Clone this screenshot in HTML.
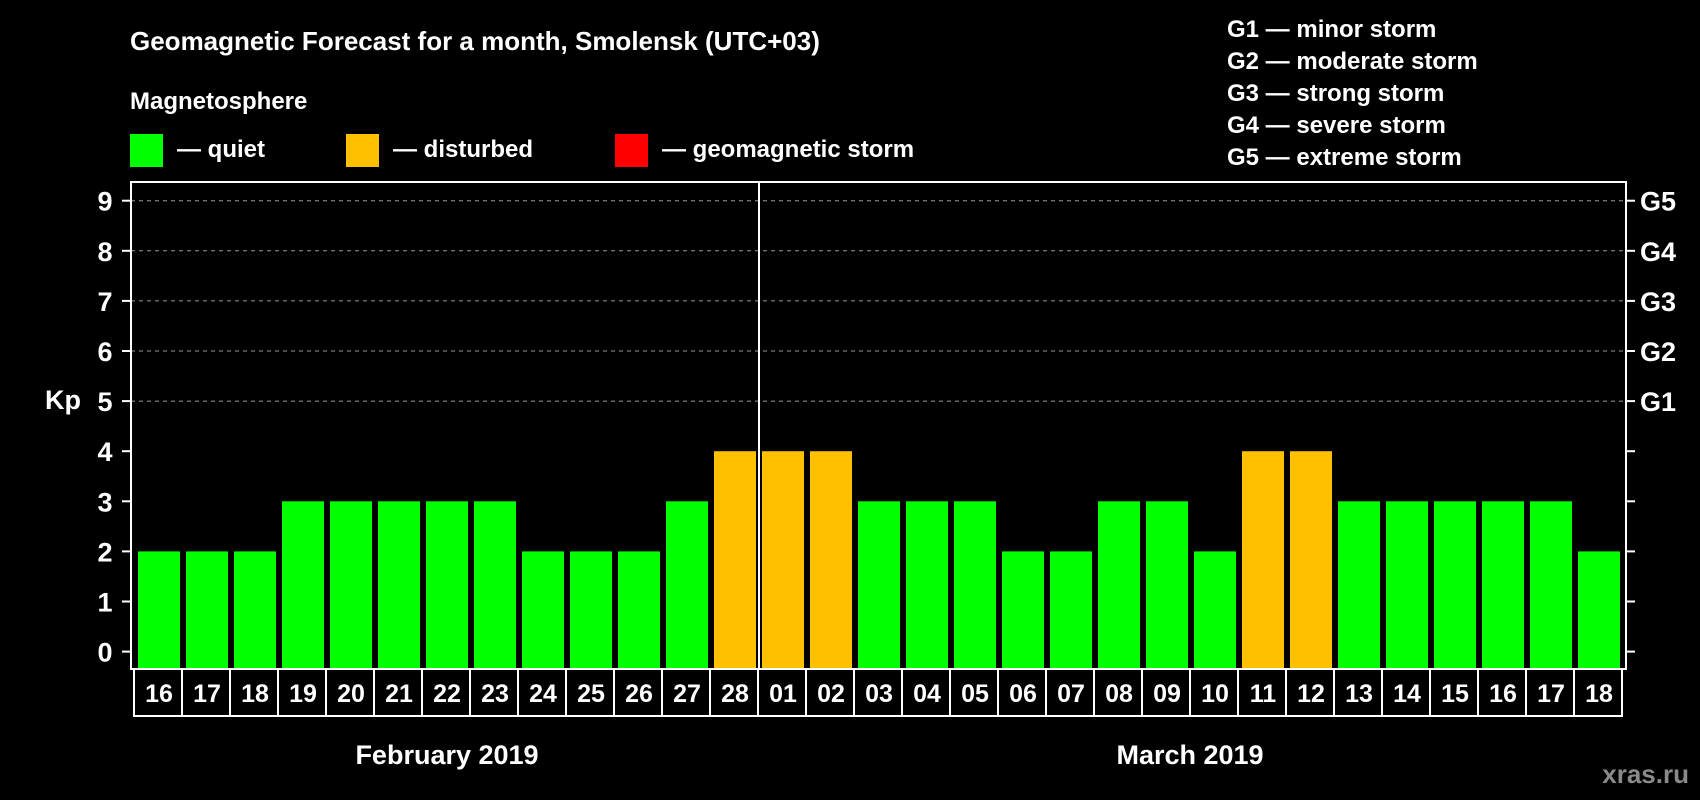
<!DOCTYPE html>
<html><head><meta charset="utf-8"><style>
html,body{margin:0;padding:0;background:#000;width:1700px;height:800px;overflow:hidden}
svg text{font-family:"Liberation Sans",Arial,sans-serif;font-weight:bold;fill:#fff}
</style></head><body>
<svg id="chart" width="1700" height="800" xmlns="http://www.w3.org/2000/svg">
<text x="130" y="50" font-size="26">Geomagnetic Forecast for a month, Smolensk (UTC+03)</text>
<text x="130" y="109" font-size="24">Magnetosphere</text>
<g><rect x="130" y="134" width="33" height="33" fill="#00ff00"/><text x="177" y="157" font-size="24">— quiet</text></g>
<g><rect x="346" y="134" width="33" height="33" fill="#ffc000"/><text x="393" y="157" font-size="24">— disturbed</text></g>
<g><rect x="615" y="134" width="33" height="33" fill="#ff0000"/><text x="662" y="157" font-size="24">— geomagnetic storm</text></g>
<g font-size="24">
<text x="1227" y="37">G1 — minor storm</text>
<text x="1227" y="69">G2 — moderate storm</text>
<text x="1227" y="101">G3 — strong storm</text>
<text x="1227" y="133">G4 — severe storm</text>
<text x="1227" y="165">G5 — extreme storm</text>
</g>
<text x="63" y="409" font-size="27" text-anchor="middle">Kp</text>
<g id="grid"></g><g id="bars"></g><g id="axes"></g><g id="dates"></g>
<text x="447" y="764" font-size="27" text-anchor="middle">February 2019</text>
<text x="1190" y="764" font-size="27" text-anchor="middle">March 2019</text>
<text x="1689" y="783" font-size="26" text-anchor="end" style="fill:#8a8a8a">xras.ru</text>
</svg>
<script>
const days = ["16","17","18","19","20","21","22","23","24","25","26","27","28","01","02","03","04","05","06","07","08","09","10","11","12","13","14","15","16","17","18"];
const kpValues = [2,2,2,3,3,3,3,3,2,2,2,3,4,4,4,3,3,3,2,2,3,3,2,4,4,3,3,3,3,3,2];
const yTicks = [0,1,2,3,4,5,6,7,8,9];
const gLabels = ["G1","G2","G3","G4","G5"];
const NS="http://www.w3.org/2000/svg";
const L=131,R=1626,T=182,B=669,Y0=651.6,UNIT=50.1,X0=138,PITCH=48,BW=42;
const y=v=>Y0-v*UNIT, x=i=>X0+i*PITCH;
function mk(tag,attrs,parent,txt){const e=document.createElementNS(NS,tag);for(const k in attrs)e.setAttribute(k,attrs[k]);if(txt!==undefined)e.textContent=txt;document.getElementById(parent).appendChild(e);return e;}
yTicks.forEach(v=>{
  if(v>=5){const g=mk('line',{x1:L,x2:R,y1:y(v),y2:y(v),stroke:'#9a9a9a','stroke-width':1,'stroke-dasharray':'4,4'},'grid');
  
  }
  const t1=mk('line',{x1:L-9,x2:L,y1:y(v),y2:y(v),stroke:'#fff','stroke-width':2},'axes');
  
  
  const t2=mk('line',{x1:R,x2:R+9,y1:y(v),y2:y(v),stroke:'#fff','stroke-width':2},'axes');
  
  
  const lb=mk('text',{x:105,y:y(v)+10,'font-size':27,'text-anchor':'middle'},'axes',String(v));
  
  
});
gLabels.forEach((g,i)=>{
  const t=mk('text',{x:1640,y:y(5+i)+10,'font-size':27},'axes',g);
  
  
});
kpValues.forEach((v,i)=>{
  const b=mk('rect',{x:x(i),y:y(v),width:BW,height:B-y(v),fill:v>=5?'#ff0000':(v>=4?'#ffc000':'#00ff00')},'bars');
  
  
  const c=mk('rect',{x:x(i)-4,y:B,width:PITCH,height:47,fill:'none',stroke:'#fff','stroke-width':2},'dates');
  
  
  const t=mk('text',{x:x(i)+BW/2,y:B+33,'font-size':25,'text-anchor':'middle'},'dates',days[i]);
  
  
});
const fr=mk('rect',{x:L,y:T,width:R-L,height:B-T,fill:'none',stroke:'#fff','stroke-width':2},'axes');


const mi=days.indexOf("01");
const dv=mk('line',{x1:x(mi)-3,x2:x(mi)-3,y1:T,y2:B,stroke:'#fff','stroke-width':2},'axes');


</script>
</body></html>
